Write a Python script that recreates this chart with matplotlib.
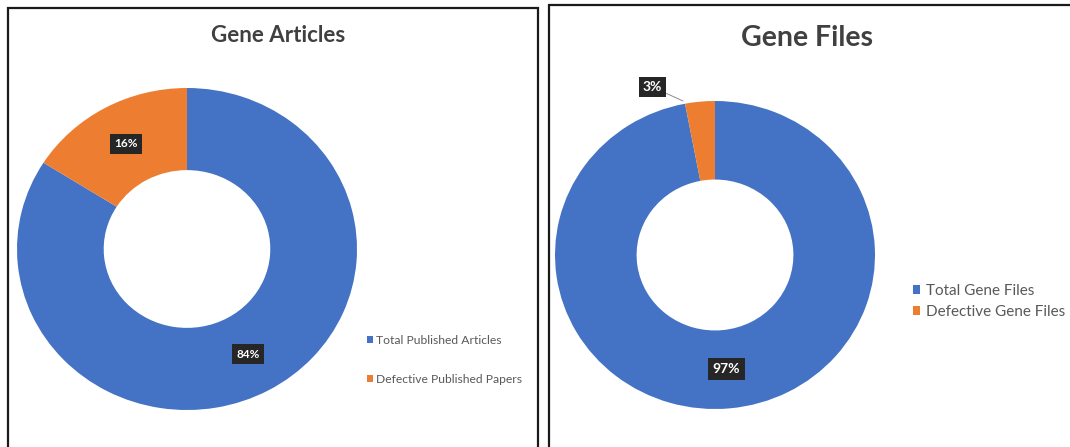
import matplotlib
matplotlib.use("Agg")
import matplotlib.pyplot as plt
import numpy as np
from matplotlib.patches import Rectangle

plt.rcParams["font.family"] = ["Lato", "DejaVu Sans"]

# data
art_labels = ["Total Published Articles", "Defective Published Papers"]
art_values = [84, 16]
file_labels = ["Total Gene Files", "Defective Gene Files"]
file_values = [97, 3]

BLUE = "#4472C4"
ORANGE = "#ED7D31"
TITLE_C = "#404040"
W, H = 1070, 447


def px_axes(fig, x0, y0, x1, y1):
    # pixel box (top-left origin) -> figure axes
    return fig.add_axes([x0 / W, (H - y1) / H, (x1 - x0) / W, (y1 - y0) / H])


def donut(ax, values):
    wedges, _ = ax.pie(values, colors=[BLUE, ORANGE], startangle=90,
                       counterclock=False, radius=1.0,
                       wedgeprops=dict(width=0.51, edgecolor="none"))
    ax.set_aspect("auto")
    ax.set_xlim(-1, 1)
    ax.set_ylim(-1, 1)
    ax.axis("off")
    return wedges


def box_label(ax, x, y, s, size):
    ax.text(x, y, s, ha="center", va="center", color="white", fontsize=size,
            fontweight="bold",
            bbox=dict(boxstyle="square,pad=0.35", fc="#262626", ec="none"))


def mid_angles(values):
    # wedge mid-angles, clockwise from 12 o'clock
    tot = sum(values)
    start = 90.0
    out = []
    for v in values:
        span = 360.0 * v / tot
        out.append(np.deg2rad(start - span / 2))
        start -= span
    return out


fig = plt.figure(figsize=(W / 100, H / 100), dpi=100)

# panel frames
fig.add_artist(Rectangle((8 / W, -0.05), (538 - 8) / W, (H - 8) / H + 0.05,
                         transform=fig.transFigure, fill=False, ec="#1a1a1a", lw=1.6))
fig.add_artist(Rectangle((549 / W, -0.05), 0.6, (H - 5) / H + 0.05,
                         transform=fig.transFigure, fill=False, ec="#1a1a1a", lw=1.6))

# ── Left: Gene Articles ──────────────────────────────────────────────────────
ax1 = px_axes(fig, 17, 88, 357, 410)
w1 = donut(ax1, art_values)
for ang, v in zip(mid_angles(art_values), art_values):
    box_label(ax1, 0.745 * np.cos(ang), 0.745 * np.sin(ang), f"{v}%", 8.5)
fig.text(278 / W, 1 - 35 / H, "Gene Articles", ha="center", va="center",
         fontsize=16, fontweight="bold", color=TITLE_C)
fig.legend(w1, art_labels, loc="upper left", bbox_to_anchor=(356 / W, 1 - 324 / H),
           frameon=False, fontsize=8.7, handlelength=0.5, handleheight=0.5,
           handletextpad=0.25, labelspacing=2.3, labelcolor="#595959")

# ── Right: Gene Files ────────────────────────────────────────────────────────
ax2 = px_axes(fig, 555, 101, 875, 409)
w2 = donut(ax2, file_values)
ang_b, ang_o = mid_angles(file_values)
box_label(ax2, 0.745 * np.cos(ang_b), 0.745 * np.sin(ang_b), f"{file_values[0]}%", 10)
ax2.annotate(f"{file_values[1]}%", xy=(-0.2, 1.0), xytext=(-0.39, 1.09),
             ha="center", va="center", color="white",
             fontsize=10, fontweight="bold", annotation_clip=False,
             bbox=dict(boxstyle="square,pad=0.3", fc="#262626", ec="none"),
             arrowprops=dict(arrowstyle="-", color="#8c8c8c", lw=0.7,
                             shrinkA=0, shrinkB=0))
fig.text(807 / W, 1 - 38 / H, "Gene Files", ha="center", va="center",
         fontsize=20.5, fontweight="bold", color=TITLE_C)
fig.legend(w2, file_labels, loc="upper left", bbox_to_anchor=(899 / W, 1 - 270 / H),
           frameon=False, fontsize=11, handlelength=0.5, handleheight=0.5,
           handletextpad=0.35, labelspacing=0.45, labelcolor="#595959")

fig.savefig("out.png", dpi=100)
